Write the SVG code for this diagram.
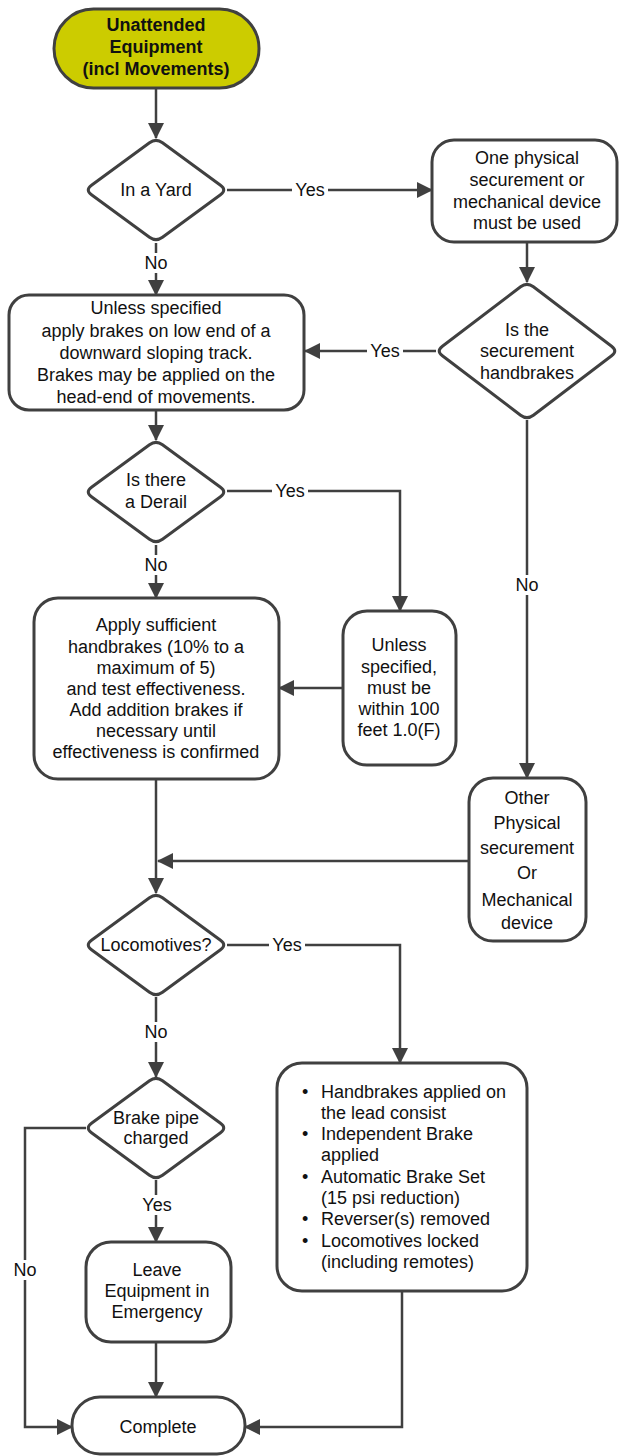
<svg xmlns="http://www.w3.org/2000/svg" width="620" height="1456" viewBox="0 0 620 1456">
<style>
.n{fill:#fff;stroke:#404040;stroke-width:3}
.t{font-family:"Liberation Sans",Arial,sans-serif;font-size:18px;fill:#111;text-anchor:middle}
.b{font-weight:bold}
.l{text-anchor:start}
.c{fill:none;stroke:#404040;stroke-width:2.5}
.lb{font-family:"Liberation Sans",Arial,sans-serif;font-size:18px;fill:#111;text-anchor:middle}
</style>
<defs>
<marker id="ah" markerUnits="userSpaceOnUse" markerWidth="16" markerHeight="16" viewBox="0 0 16 16" refX="15" refY="8" orient="auto">
<path d="M0,0 L16,8 L0,16 z" fill="#404040"/>
</marker>
<path id="dm" d="M6.5,-47.3 L64.5,-4.7 Q71,0 64.5,4.7 L6.5,47.3 Q0,52 -6.5,47.3 L-64.5,4.7 Q-71,0 -64.5,-4.7 L-6.5,-47.3 Q0,-52 6.5,-47.3Z"/>
</defs>
<g id="connectors">
<path class="c" d="M156,88 V138" marker-end="url(#ah)"/>
<path class="c" d="M227,190 H432" marker-end="url(#ah)"/>
<path class="c" d="M156,243 V295" marker-end="url(#ah)"/>
<path class="c" d="M527,242 V282" marker-end="url(#ah)"/>
<path class="c" d="M436,351 H305" marker-end="url(#ah)"/>
<path class="c" d="M156,410 V440" marker-end="url(#ah)"/>
<path class="c" d="M227,491 H400 V611" marker-end="url(#ah)"/>
<path class="c" d="M156,545 V598" marker-end="url(#ah)"/>
<path class="c" d="M343,688 H279" marker-end="url(#ah)"/>
<path class="c" d="M527,420 V778" marker-end="url(#ah)"/>
<path class="c" d="M156,779 V893" marker-end="url(#ah)"/>
<path class="c" d="M469,861 H158" marker-end="url(#ah)"/>
<path class="c" d="M227,945 H400 V1063" marker-end="url(#ah)"/>
<path class="c" d="M156,997 V1077" marker-end="url(#ah)"/>
<path class="c" d="M86,1128 H25 V1427 H72" marker-end="url(#ah)"/>
<path class="c" d="M156,1180 V1242" marker-end="url(#ah)"/>
<path class="c" d="M156,1342 V1397" marker-end="url(#ah)"/>
<path class="c" d="M402,1291 V1427 H245" marker-end="url(#ah)"/>
<g fill="#fff">
<rect x="292" y="180" width="36" height="20"/>
<rect x="142" y="253" width="28" height="20"/>
<rect x="367" y="341" width="36" height="20"/>
<rect x="272" y="481" width="36" height="20"/>
<rect x="142" y="555" width="28" height="20"/>
<rect x="513" y="575" width="28" height="20"/>
<rect x="269" y="935" width="36" height="20"/>
<rect x="142" y="1022" width="28" height="20"/>
<rect x="11" y="1260" width="28" height="20"/>
<rect x="139" y="1195" width="36" height="20"/>
</g>
<text class="lb" x="310" y="196">Yes</text>
<text class="lb" x="156" y="269">No</text>
<text class="lb" x="385" y="357">Yes</text>
<text class="lb" x="290" y="497">Yes</text>
<text class="lb" x="156" y="571">No</text>
<text class="lb" x="527" y="591">No</text>
<text class="lb" x="287" y="951">Yes</text>
<text class="lb" x="156" y="1038">No</text>
<text class="lb" x="25" y="1276">No</text>
<text class="lb" x="157" y="1211">Yes</text>
</g>
<g id="start">
<rect x="54" y="9" width="205" height="79" rx="39.5" fill="#cccc00" stroke="#404040" stroke-width="3"/>
<text class="t b" x="156" y="31">Unattended</text>
<text class="t b" x="156" y="53">Equipment</text>
<text class="t b" x="156" y="75">(incl Movements)</text>
</g>
<g id="yard">
<use href="#dm" class="n" transform="translate(156,190)"/>
<text class="t" x="156" y="196">In a Yard</text>
</g>
<g id="onephysical">
<rect class="n" x="432" y="140" width="185" height="102" rx="22"/>
<text class="t" x="527" y="164">One physical</text>
<text class="t" x="527" y="186">securement or</text>
<text class="t" x="527" y="208">mechanical device</text>
<text class="t" x="527" y="229">must be used</text>
</g>
<g id="securement">
<path class="n" transform="translate(527,351)" d="M6.4,-64.2 L84.6,-4.8 Q91,0 84.6,4.8 L6.4,64.2 Q0,69 -6.4,64.2 L-84.6,4.8 Q-91,0 -84.6,-4.8 L-6.4,-64.2 Q0,-69 6.4,-64.2Z"/>
<text class="t" x="527" y="336">Is the</text>
<text class="t" x="527" y="357">securement</text>
<text class="t" x="527" y="379">handbrakes</text>
</g>
<g id="lowend">
<rect class="n" x="9" y="295" width="295" height="115" rx="20"/>
<text class="t" x="156" y="314">Unless specified</text>
<text class="t" x="156" y="337">apply brakes on low end of a</text>
<text class="t" x="156" y="359">downward sloping track.</text>
<text class="t" x="156" y="381">Brakes may be applied on the</text>
<text class="t" x="156" y="403">head-end of movements.</text>
</g>
<g id="derail">
<use href="#dm" class="n" transform="translate(156,492)"/>
<text class="t" x="156" y="486">Is there</text>
<text class="t" x="156" y="508">a Derail</text>
</g>
<g id="within100">
<rect class="n" x="343" y="611" width="113" height="154" rx="24"/>
<text class="t" x="399" y="651">Unless</text>
<text class="t" x="399" y="673">specified,</text>
<text class="t" x="399" y="694">must be</text>
<text class="t" x="399" y="715">within 100</text>
<text class="t" x="399" y="736">feet  1.0(F)</text>
</g>
<g id="apply">
<rect class="n" x="34" y="598" width="245" height="181" rx="24"/>
<text class="t" x="156" y="631">Apply sufficient</text>
<text class="t" x="156" y="653">handbrakes (10% to a</text>
<text class="t" x="156" y="674">maximum of 5)</text>
<text class="t" x="156" y="695">and test effectiveness.</text>
<text class="t" x="156" y="716">Add addition brakes if</text>
<text class="t" x="156" y="737">necessary until</text>
<text class="t" x="156" y="758">effectiveness is confirmed</text>
</g>
<g id="other">
<rect class="n" x="469" y="778" width="117" height="163" rx="24"/>
<text class="t" x="527" y="804">Other</text>
<text class="t" x="527" y="829">Physical</text>
<text class="t" x="527" y="854">securement</text>
<text class="t" x="527" y="879">Or</text>
<text class="t" x="527" y="906">Mechanical</text>
<text class="t" x="527" y="929">device</text>
</g>
<g id="locomotives">
<use href="#dm" class="n" transform="translate(156,945)"/>
<text class="t" x="156" y="951">Locomotives?</text>
</g>
<g id="brakepipe">
<use href="#dm" class="n" transform="translate(156,1128)"/>
<text class="t" x="156" y="1124">Brake pipe</text>
<text class="t" x="156" y="1144">charged</text>
</g>
<g id="locolist">
<rect class="n" x="277" y="1063" width="250" height="228" rx="25"/>
<text class="t l" x="302" y="1098">•</text>
<text class="t l" x="321" y="1098">Handbrakes applied on</text>
<text class="t l" x="321" y="1119">the lead consist</text>
<text class="t l" x="302" y="1140">•</text>
<text class="t l" x="321" y="1140">Independent Brake</text>
<text class="t l" x="321" y="1161">applied</text>
<text class="t l" x="302" y="1183">•</text>
<text class="t l" x="321" y="1183">Automatic Brake Set</text>
<text class="t l" x="321" y="1204">(15 psi reduction)</text>
<text class="t l" x="302" y="1225">•</text>
<text class="t l" x="321" y="1225">Reverser(s) removed</text>
<text class="t l" x="302" y="1247">•</text>
<text class="t l" x="321" y="1247">Locomotives locked</text>
<text class="t l" x="321" y="1268">(including remotes)</text>
</g>
<g id="leave">
<rect class="n" x="86" y="1242" width="145" height="100" rx="25"/>
<text class="t" x="157" y="1276">Leave</text>
<text class="t" x="157" y="1297">Equipment in</text>
<text class="t" x="157" y="1318">Emergency</text>
</g>
<g id="complete">
<rect class="n" x="72" y="1397" width="173" height="57" rx="28"/>
<text class="t" x="158" y="1433">Complete</text>
</g>
</svg>
